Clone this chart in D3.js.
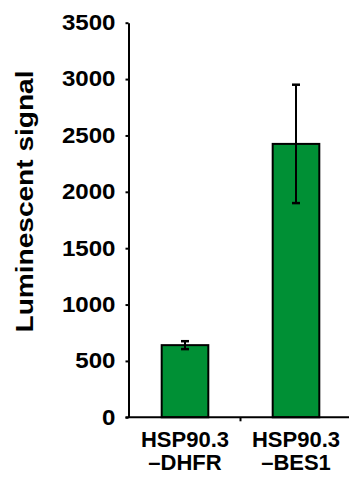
<!DOCTYPE html>
<html>
<head>
<meta charset="utf-8">
<script src="https://cdn.jsdelivr.net/npm/d3@7"></script>
<style>
  html, body { margin: 0; padding: 0; background: #fff; }
  svg { display: block; }
  text { font-family: "Liberation Sans", Arial, sans-serif; font-weight: bold; fill: #000; }
</style>
</head>
<body>
<svg id="chart" width="349" height="480"></svg>
<script>
// ---- data ----
const categories = ["HSP90.3\n\u2013DHFR", "HSP90.3\n\u2013BES1"];
const values = [640, 2425];
const errors = [35, 525];
const yTicks = [0, 500, 1000, 1500, 2000, 2500, 3000, 3500];
const yLabel = "Luminescent signal";

// ---- layout ----
const W = 349, H = 480;
const axisX = 128.5;
const y0 = 417.3, yTop = 22.7;

const svg = d3.select("#chart");

const y = d3.scaleLinear().domain([0, 3500]).range([y0, yTop]);
const x = d3.scaleBand()
  .domain(categories)
  .range([129.5, 351.5])
  .paddingInner(0.58)
  .paddingOuter(0.29);

// bars
svg.append("g").selectAll("rect")
  .data(categories)
  .join("rect")
  .attr("x", d => x(d))
  .attr("width", x.bandwidth())
  .attr("y", (d, i) => y(values[i]))
  .attr("height", (d, i) => y(0) - y(values[i]))
  .attr("fill", "#009035")
  .attr("stroke", "#000")
  .attr("stroke-width", 2);

// error bars
const eb = svg.append("g").attr("stroke", "#000");
categories.forEach((c, i) => {
  const cx = x(c) + x.bandwidth() / 2;
  const hi = y(values[i] + errors[i]), lo = y(values[i] - errors[i]);
  eb.append("line").attr("x1", cx).attr("x2", cx).attr("y1", hi).attr("y2", lo).attr("stroke-width", 2);
  [hi, lo].forEach(v => {
    eb.append("line").attr("x1", cx - 4).attr("x2", cx + 4).attr("y1", v).attr("y2", v).attr("stroke-width", 2.5);
  });
});

// y axis
const yAxis = d3.axisLeft(y).tickValues(yTicks).tickFormat(d3.format("d"))
  .tickSize(3).tickPadding(10).tickSizeOuter(0);
const gy = svg.append("g").attr("transform", `translate(${axisX},0)`).call(yAxis);
gy.select(".domain").attr("stroke", "#000").attr("stroke-width", 2);
gy.selectAll(".tick line").attr("stroke", "#000").attr("stroke-width", 2);
gy.selectAll(".tick text")
  .style("font-size", "21.5px")
  .style("font-family", "'Liberation Sans', Arial, sans-serif")
  .style("font-weight", "bold")
  .attr("fill", "#000")
  .attr("textLength", d => String(d).length * 13.4)
  .attr("lengthAdjust", "spacingAndGlyphs");

// x axis line
svg.append("line")
  .attr("x1", axisX - 3).attr("x2", W)
  .attr("y1", y0).attr("y2", y0)
  .attr("stroke", "#000").attr("stroke-width", 2);
// boundary tick between categories
const step = x.step();
const bnd = x(categories[1]) - (step - x.bandwidth()) / 2;
svg.append("line")
  .attr("x1", bnd).attr("x2", bnd)
  .attr("y1", y0).attr("y2", y0 + 4)
  .attr("stroke", "#000").attr("stroke-width", 2);

// category labels
const lab = svg.append("g");
categories.forEach(c => {
  const cx = x(c) + x.bandwidth() / 2;
  const t = lab.append("text")
    .attr("text-anchor", "middle")
    .style("font-size", "22px");
  c.split("\n").forEach((line, k) => {
    t.append("tspan").attr("x", cx).attr("y", 447 + k * 23).text(line);
  });
});

// y label
svg.append("text")
  .attr("transform", `translate(33,201.5) rotate(-90)`)
  .attr("text-anchor", "middle")
  .style("font-size", "24px")
  .attr("textLength", 262)
  .attr("lengthAdjust", "spacingAndGlyphs")
  .text(yLabel);
</script>
</body>
</html>
